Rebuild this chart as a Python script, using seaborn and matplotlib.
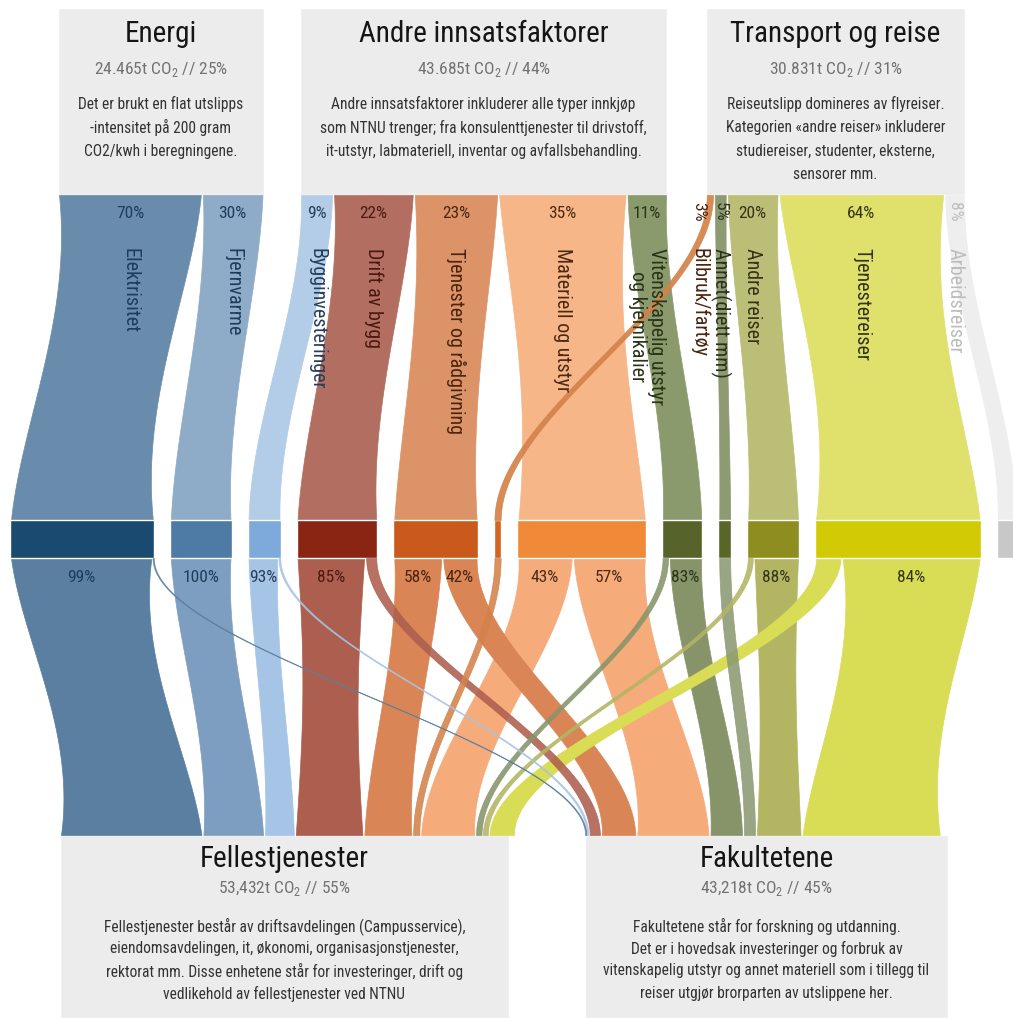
import numpy as np
import pandas as pd
import matplotlib
matplotlib.use("Agg")
import matplotlib.pyplot as plt
from matplotlib import font_manager
import seaborn as sns

# ---------------- data ----------------
group_names = ["Energi", "Andre innsatsfaktorer", "Transport og reise"]
group_tonnes = [24465, 43685, 30831]
group_subtitles = [
    "24.465t CO$_\\mathregular{2}$ // 25%",
    "43.685t CO$_\\mathregular{2}$ // 44%",
    "30.831t CO$_\\mathregular{2}$ // 31%",
]
group_notes = [
    ["Det er brukt en flat utslipps", "-intensitet på 200 gram", "CO2/kwh i beregningene."],
    ["Andre innsatsfaktorer inkluderer alle typer innkjøp",
     "som NTNU trenger; fra konsulenttjenester til drivstoff,",
     "it-utstyr, labmateriell, inventar og avfallsbehandling."],
    ["Reiseutslipp domineres av flyreiser.", "Kategorien «andre reiser» inkluderer",
     "studiereiser, studenter, eksterne,", "sensorer mm."],
]

categories = [
    "Elektrisitet", "Fjernvarme",
    "Bygginvesteringer", "Drift av bygg", "Tjenester og rådgivning",
    "Materiell og utstyr", "Vitenskapelig utstyr\nog kjemikalier",
    "Bilbruk/fartøy", "Annet(diett mm)", "Andre reiser", "Tjenestereiser", "Arbeidsreiser",
]
category_group = [0, 0, 1, 1, 1, 1, 1, 2, 2, 2, 2, 2]
category_share = [70, 30, 9, 22, 23, 35, 11, 3, 5, 20, 64, 8]
# share (%) of each category that ends in Fellestjenester, the rest goes to Fakultetene
to_fellestjenester = [99, 100, 93, 85, 58, 43, 17, 100, 0, 12, 16, np.nan]

# order of the categories in the dark middle bar
bar_order = [
    "Elektrisitet", "Fjernvarme", "Bygginvesteringer", "Drift av bygg",
    "Tjenester og rådgivning", "Bilbruk/fartøy", "Materiell og utstyr",
    "Vitenskapelig utstyr\nog kjemikalier", "Annet(diett mm)", "Andre reiser",
    "Tjenestereiser", "Arbeidsreiser",
]

unit_names = ["Fellestjenester", "Fakultetene"]
unit_tonnes = [53432, 43218]
unit_subtitles = ["53,432t CO$_\\mathregular{2}$ // 55%", "43,218t CO$_\\mathregular{2}$ // 45%"]
unit_notes = [
    ["Fellestjenester består av driftsavdelingen (Campusservice),",
     "eiendomsavdelingen, it, økonomi, organisasjonstjenester,",
     "rektorat mm. Disse enhetene står for investeringer, drift og",
     "vedlikehold av fellestjenester ved NTNU"],
    ["Fakultetene står for forskning og utdanning.",
     "Det er i hovedsak investeringer og forbruk av",
     "vitenskapelig utstyr og annet materiell som i tillegg til",
     "reiser utgjør brorparten av utslippene her."],
]

# colours in the order of categories
top_colors = ["#6a8cac", "#8eabc8", "#b3cde8", "#b26f61", "#dc9367", "#f6b688",
              "#8b9a6d", "#d4824a", "#8d9a72", "#bbbe76", "#dfe16c", "#eeeeee"]
low_colors = ["#5a7fa0", "#7d9ec0", "#a6c4e5", "#ad5f4f", "#d98556", "#f6ab7a",
              "#87946a", "#d4824a", "#8c9a72", "#b3b563", "#d9dc55", "#dddddd"]
text_colors = ["#1e3d5c", "#1e3d5c", "#263e5c", "#4a1a10", "#4a2510", "#4a2a15",
               "#2a3318", "#4a2510", "#2a3318", "#33331a", "#33331a", "#bdbdbd"]
# dark bar colours in the order of bar_order
bar_colors = ["#1a4a70", "#4e7aa6", "#7eaadb", "#8a2413", "#c95a1b", "#cf6624",
              "#f08a38", "#56632a", "#5a6528", "#8e8e20", "#d1ca05", "#c8c8c8"]
bar_colors = dict(zip(bar_order, bar_colors))

# ---------------- layout ----------------
W, H = 1013, 1018
PX_PER_T = 0.0084
HEAD_Y0, HEAD_Y1 = 8, 195
GROUP_X0 = [58, 300, 706]
BAR_Y0, BAR_Y1 = 520, 558
BAR_X0, BAR_GAP = 10, 16
UNIT_Y0 = 835
UNIT_X0 = [60, 585]
BOX_COLOR = "#ececec"
NAME_NUDGE = {"Bilbruk/fartøy": -11}


def pick_font():
    fonts = font_manager.fontManager.ttflist
    names = {f.name for f in fonts}
    for cand in ["Roboto Condensed", "Liberation Sans Narrow", "Open Sans Condensed",
                 "DejaVu Sans Condensed"]:
        if cand in names:
            return cand, "normal"
    for fam in ["Roboto", "DejaVu Sans", "Open Sans", "Noto Sans", "Liberation Sans"]:
        if any(f.name == fam and "condensed" in str(f.stretch) for f in fonts):
            return fam, "condensed"
    return "Roboto", "normal"


def band(ax, y0, y1, l0, r0, l1, r1, color, waist=0.15, alpha=1.0, z=2):
    t = np.linspace(0, 1, 160)
    s = t * t * (3 - 2 * t)
    y = y0 + (y1 - y0) * t
    left = l0 + (l1 - l0) * s
    right = r0 + (r1 - r0) * s
    c = (left + right) / 2
    half = (right - left) / 2 * (1 - waist * np.sin(np.pi * t))
    ax.fill_betweenx(y, c - half, c + half, color=color, alpha=alpha,
                     lw=0.5, ec=color, zorder=z)


sns.set_theme(style="white")
FONT, STRETCH = pick_font()
plt.rcParams["font.family"] = [FONT, "DejaVu Sans"]
plt.rcParams["font.stretch"] = STRETCH
plt.rcParams["mathtext.fontset"] = "custom"
plt.rcParams["mathtext.rm"] = FONT

df = pd.DataFrame({
    "category": categories,
    "group": category_group,
    "share": category_share,
    "fell": to_fellestjenester,
    "top_color": top_colors,
    "low_color": low_colors,
    "text_color": text_colors,
})
df["tonnes"] = df["share"] / 100 * np.array(group_tonnes)[df["group"]]
df["w"] = df["tonnes"] * PX_PER_T

# top positions: bands fill the header box of their group
df["top_x0"] = 0.0
for g, x0 in enumerate(GROUP_X0):
    idx = df.index[df["group"] == g]
    widths = df.loc[idx, "w"].values
    df.loc[idx, "top_x0"] = x0 + np.concatenate([[0], np.cumsum(widths)[:-1]])
df["top_x1"] = df["top_x0"] + df["w"]

# middle bar positions
df["bar_x0"] = 0.0
x = BAR_X0
for name in bar_order:
    i = categories.index(name)
    df.loc[i, "bar_x0"] = x
    x += df.loc[i, "w"] + BAR_GAP
df["bar_x1"] = df["bar_x0"] + df["w"]

# flows to the two units
flows = []
unit_x = list(UNIT_X0)
for name in bar_order:
    i = categories.index(name)
    row = df.loc[i]
    if np.isnan(row["fell"]):
        continue
    wf = row["w"] * row["fell"] / 100
    parts = [(0, row["fell"], row["bar_x0"], row["bar_x0"] + wf),
             (1, 100 - row["fell"], row["bar_x0"] + wf, row["bar_x1"])]
    for unit, share, s0, s1 in parts:
        wpart = s1 - s0
        if wpart <= 0:
            continue
        flows.append({"cat": i, "unit": unit, "share": share, "s0": s0, "s1": s1,
                      "d0": unit_x[unit], "d1": unit_x[unit] + wpart, "w": wpart})
        unit_x[unit] += wpart
flows = pd.DataFrame(flows)

fig = plt.figure(figsize=(W / 100, H / 100), dpi=100)
ax = fig.add_axes([0, 0, 1, 1])
ax.set_xlim(0, W)
ax.set_ylim(H, 0)
ax.axis("off")

# header boxes
group_w = np.array(group_tonnes) * PX_PER_T
ax.bar(GROUP_X0, HEAD_Y1 - HEAD_Y0, width=group_w, bottom=HEAD_Y0, align="edge",
       color=BOX_COLOR, zorder=1)
for g in range(3):
    cx = GROUP_X0[g] + group_w[g] / 2
    ax.text(cx, 34, group_names[g], ha="center", va="center", fontsize=21,
            color="#151515", zorder=5)
    ax.text(cx, 69, group_subtitles[g], ha="center", va="center", fontsize=12.5,
            color="#727272", zorder=5)
    for k, line in enumerate(group_notes[g]):
        ax.text(cx, 104 + k * 23.5, line, ha="center", va="center", fontsize=11.2,
                color="#333333", zorder=5)

# unit boxes
unit_w = np.array(unit_tonnes) * PX_PER_T
ax.bar(UNIT_X0, H - UNIT_Y0, width=unit_w, bottom=UNIT_Y0, align="edge",
       color=BOX_COLOR, zorder=1)
for u in range(2):
    cx = UNIT_X0[u] + unit_w[u] / 2
    ax.text(cx, 859, unit_names[u], ha="center", va="center", fontsize=21,
            color="#151515", zorder=5)
    ax.text(cx, 889, unit_subtitles[u], ha="center", va="center", fontsize=12.5,
            color="#727272", zorder=5)
    for k, line in enumerate(unit_notes[u]):
        ax.text(cx, 926 + k * 22.5, line, ha="center", va="center", fontsize=11.2,
                color="#333333", zorder=5)

# upper bands (wide ones first, so the crossing strand lies on top)
for i in df.sort_values("w", ascending=False).index:
    r = df.loc[i]
    ins = min(1.0, r["w"] * 0.1)
    crossing = abs(r["top_x0"] - r["bar_x0"]) > 100
    band(ax, HEAD_Y1, BAR_Y0, r["top_x0"] + ins, r["top_x1"] - ins,
         r["bar_x0"] + ins, r["bar_x1"] - ins, r["top_color"],
         waist=0.0 if crossing else 0.15, alpha=0.92 if crossing else 1.0,
         z=4 if crossing else 2)

# middle bar
ax.bar(df["bar_x0"], BAR_Y1 - BAR_Y0, width=df["w"], bottom=BAR_Y0, align="edge",
       color=[bar_colors[c] for c in df["category"]], zorder=3)

# lower flows
for _, f in flows.sort_values("w", ascending=False).iterrows():
    r = df.loc[f["cat"]]
    ins = min(1.0, f["w"] * 0.1)
    thin = f["w"] < 25
    band(ax, BAR_Y1, UNIT_Y0, f["s0"] + ins, f["s1"] - ins, f["d0"] + ins,
         f["d1"] - ins, r["low_color"], waist=0.0 if thin else 0.17,
         alpha=0.88 if thin else 1.0, z=4 if thin else 2)
    if f["share"] >= 40 and f["w"] >= 20:
        ax.text((f["s0"] + f["s1"]) / 2, 578, f"{f['share']:.0f}%", ha="center",
                va="center", fontsize=12.5, color=r["text_color"], zorder=6)

# labels on the upper bands
for i, r in df.iterrows():
    cx = (r["top_x0"] + r["top_x1"]) / 2 + NAME_NUDGE.get(r["category"], 0)
    if r["w"] < 22:
        ax.text(cx, 202, f"{r['share']}%", ha="center", va="top", rotation=-90,
                fontsize=12.5, color=r["text_color"], zorder=6)
    else:
        ax.text(cx, 213, f"{r['share']}%", ha="center", va="center",
                fontsize=12.5, color=r["text_color"], zorder=6)
    ax.text(cx, 248, r["category"], ha="center", va="top", rotation=-90,
            fontsize=14.5, color=r["text_color"], multialignment="center",
            linespacing=1.0, zorder=6)

fig.savefig("out.png", dpi=100, facecolor="white")
